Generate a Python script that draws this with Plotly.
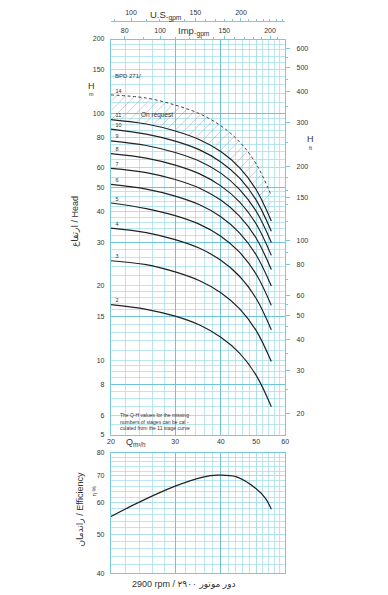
import numpy as np
import plotly.graph_objects as go

# ---------------- data ----------------
Q_STAGE = [20, 25, 30, 35, 40, 45, 50, 55]          # m3/h
H_2 = [16.8, 16.1, 15.1, 13.9, 12.4, 10.7, 8.7, 6.5]
H_3 = [25.3, 24.4, 22.8, 21.0, 18.8, 16.2, 13.2, 9.9]
H_4 = [34.3, 32.9, 30.8, 28.4, 25.4, 21.9, 17.8, 13.3]
H_5 = [43.3, 41.1, 38.5, 35.5, 31.8, 27.4, 22.3, 16.7]
H_6 = [51.5, 49.3, 46.2, 42.6, 38.1, 32.8, 26.7, 20.0]
H_7 = [59.8, 57.5, 53.9, 49.7, 44.5, 38.3, 31.2, 23.3]
H_8 = [68.6, 65.8, 61.6, 56.8, 50.8, 43.8, 35.6, 26.6]
H_9 = [77.3, 74.0, 69.3, 63.9, 57.2, 49.2, 40.1, 30.0]
H_10 = [86.2, 82.2, 77.0, 71.0, 63.5, 54.7, 44.5, 33.3]
H_11 = [94.2, 90.4, 84.7, 78.1, 69.9, 60.2, 49.0, 36.6]
H_14 = [118.5, 115.1, 107.8, 99.4, 88.9, 76.6, 62.3, 46.4]
STAGE_NAMES = ["2", "3", "4", "5", "6", "7", "8", "9", "10", "11"]

Q_EFF = [20, 24, 30, 36, 39, 44, 50, 53, 55]
EFF = [55.4, 60.3, 66.0, 69.6, 70.3, 69.7, 65.0, 61.5, 57.8]

X_TICKS = [20, 30, 40, 50, 60]
H_TICKS_M = [5, 6, 8, 10, 15, 20, 30, 40, 50, 60, 80, 100, 150, 200]
H_TICKS_FT = [20, 30, 40, 50, 60, 80, 100, 150, 200, 300, 400, 500, 600]
EFF_TICKS = [40, 50, 60, 70, 80]
US_GPM_TICKS = [100, 150, 200]
IMP_GPM_TICKS = [80, 100, 150, 200]
M3H_TO_USGPM = 4.4029
M3H_TO_IMPGPM = 3.6662
M_TO_FT = 3.28084

Q_RANGE = [20, 60]
H_RANGE = [5, 200]
EFF_RANGE = [40, 80]

# ---------------- styling ----------------
PAGE_MARGIN = 8            # default body margin of the html page
W, H = 388 - PAGE_MARGIN, 595 - PAGE_MARGIN
FONT = "Liberation Sans, Arial, DejaVu Sans, sans-serif"
TXT = "#333333"
GRID = "rgb(170,222,235)"
GRID_THICK = "rgb(110,195,218)"
FRAME = "rgb(120,200,222)"
CURVE = "#222222"
HATCH = "rgb(175,175,175)"


def px(x):
    return (x - PAGE_MARGIN) / W


def py(y):
    return 1 - (y - PAGE_MARGIN) / H


PLOT_L, PLOT_R, PLOT_T, PLOT_B = 109, 287, 35, 436
XD = [px(PLOT_L), px(PLOT_R)]
TOP = [py(PLOT_B), py(PLOT_T)]
BOT = [py(576), py(454)]
LX = [np.log10(Q_RANGE[0]), np.log10(Q_RANGE[1])]
LY = [np.log10(H_RANGE[0]), np.log10(H_RANGE[1])]

minor_x = list(range(22, 60, 2))
minor_h = (list(np.arange(5.5, 10, 0.5)) + list(range(11, 20)) + list(range(22, 50, 2))
           + list(range(55, 100, 5)) + list(range(110, 200, 10)))
minor_eff = list(range(42, 80, 2))
minor_ft = [25, 35, 45, 55, 70, 90, 120, 140, 160, 180, 250, 350, 450, 550]
minor_us = list(range(90, 270, 10))
minor_imp = list(range(80, 221, 10))

# ---- hatch lines ("/") inside the band between the 11- and 14-stage curves ----
KX = (PLOT_R - PLOT_L) / (LX[1] - LX[0])     # px per decade
KY = (PLOT_B - PLOT_T) / (LY[1] - LY[0])
lq = np.log10(Q_STAGE)
u_end = (lq[-1] - LX[0]) * KX
us = np.linspace(0, u_end, 600)
lq_s = LX[0] + us / KX
v_lo = (np.interp(lq_s, lq, np.log10(H_11)) - LY[0]) * KY
v_hi = (np.interp(lq_s, lq, np.log10(H_14)) - LY[0]) * KY
hx, hy = [], []
for c in np.arange((v_lo - us).min(), (v_hi - us).max(), 9.5):
    v = us + c
    inside = (v >= v_lo) & (v <= v_hi)
    if inside.sum() < 2:
        continue
    idx = np.where(inside)[0]
    for i in (idx[0], idx[-1]):
        hx.append(10 ** (LX[0] + us[i] / KX))
        hy.append(10 ** (LY[0] + v[i] / KY))
    hx.append(None)
    hy.append(None)

fig = go.Figure()

fig.add_trace(go.Scatter(x=hx, y=hy, mode="lines", line=dict(color=HATCH, width=0.6),
                         connectgaps=False, hoverinfo="skip", showlegend=False))

stage_series = [H_2, H_3, H_4, H_5, H_6, H_7, H_8, H_9, H_10, H_11]
for name, hs in zip(STAGE_NAMES, stage_series):
    fig.add_trace(go.Scatter(x=Q_STAGE, y=hs, mode="lines", line=dict(color=CURVE, width=1.2, shape="spline"),
                             hoverinfo="skip", showlegend=False))
fig.add_trace(go.Scatter(x=Q_STAGE, y=H_14, mode="lines",
                         line=dict(color="#444444", width=1, dash="3px,2.5px", shape="spline"),
                         hoverinfo="skip", showlegend=False))

# stage labels near the start of each curve
label_series = stage_series + [H_14]
label_names = STAGE_NAMES + ["14"]
fig.add_trace(go.Scatter(x=[Q_STAGE[0] * 1.03] * len(label_series),
                         y=[s[0] * 1.035 for s in label_series],
                         text=label_names, mode="text", textposition="middle right",
                         textfont=dict(size=5.5, color=TXT, family=FONT),
                         hoverinfo="skip", showlegend=False))

# efficiency
fig.add_trace(go.Scatter(x=Q_EFF, y=EFF, mode="lines", line=dict(color=CURVE, width=1.2, shape="spline"),
                         xaxis="x4", yaxis="y4", hoverinfo="skip", showlegend=False))

# empty traces to create the helper axes
for xa, ya in [("x2", "y"), ("x3", "y"), ("x5", "y"), ("x", "y3"), ("x", "y2"), ("x6", "y4")]:
    fig.add_trace(go.Scatter(x=[], y=[], xaxis=xa, yaxis=ya, hoverinfo="skip", showlegend=False))

tf = dict(size=7, color=TXT, family=FONT)

fig.update_layout(
    width=W, height=H, autosize=False,
    margin=dict(l=0, r=0, t=0, b=0),
    paper_bgcolor="white", plot_bgcolor="white",
    font=dict(family=FONT, color=TXT),
    showlegend=False, hovermode=False,
    xaxis=dict(type="log", range=LX, domain=XD, anchor="y", tickvals=X_TICKS,
               ticktext=[str(v) for v in X_TICKS], ticks="", tickfont=tf,
               showline=True, linecolor=FRAME, linewidth=1, mirror=False,
               showgrid=True, gridcolor=GRID, gridwidth=0.8, zeroline=False,
               minor=dict(tickvals=minor_x, showgrid=True, gridcolor=GRID, gridwidth=0.8, ticks="")),
    yaxis=dict(type="log", range=LY, domain=TOP, anchor="x",
               tickvals=H_TICKS_M, ticktext=[str(v) for v in H_TICKS_M], tickfont=tf,
               ticks="outside", ticklen=4, tickcolor="rgba(0,0,0,0)",
               showline=True, linecolor=FRAME, linewidth=1,
               showgrid=True, gridcolor=GRID, gridwidth=0.8, zeroline=False,
               minor=dict(tickvals=minor_h, showgrid=True, gridcolor=GRID, gridwidth=0.8, ticks="")),
    yaxis2=dict(type="log", overlaying="y", side="right", anchor="x",
                range=[np.log10(H_RANGE[0] * M_TO_FT), np.log10(H_RANGE[1] * M_TO_FT)],
                tickvals=H_TICKS_FT, ticktext=[str(v) for v in H_TICKS_FT], tickfont=tf,
                ticks="outside", ticklen=4, tickcolor=FRAME, ticklabelstandoff=5,
                showline=True, linecolor=FRAME, linewidth=1, showgrid=False, zeroline=False,
                minor=dict(tickvals=minor_ft, ticks="outside", ticklen=2, tickcolor=FRAME, showgrid=False)),
    yaxis3=dict(type="log", overlaying="y", anchor="x", range=LY,
                tickvals=[8, 15, 30, 50, 100], showticklabels=False, ticks="",
                showgrid=True, gridcolor=GRID_THICK, gridwidth=1.2, showline=False, zeroline=False),
    xaxis5=dict(type="log", overlaying="x", anchor="y", range=LX,
                tickvals=[30, 40], showticklabels=False, ticks="",
                showgrid=True, gridcolor=GRID_THICK, gridwidth=1.3, showline=False, zeroline=False),
    xaxis2=dict(type="log", overlaying="x", anchor="free", position=py(17), side="top",
                range=[np.log10(Q_RANGE[0] * M3H_TO_USGPM), np.log10(Q_RANGE[1] * M3H_TO_USGPM)],
                tickvals=US_GPM_TICKS, ticktext=[str(v) for v in US_GPM_TICKS], tickfont=tf,
                ticks="outside", ticklen=3, tickcolor=FRAME,
                showline=True, linecolor=FRAME, linewidth=1, showgrid=False, zeroline=False,
                minor=dict(tickvals=minor_us, ticks="outside", ticklen=2, tickcolor=FRAME, showgrid=False)),
    xaxis3=dict(type="log", overlaying="x", anchor="free", position=TOP[1], side="top",
                range=[np.log10(Q_RANGE[0] * M3H_TO_IMPGPM), np.log10(Q_RANGE[1] * M3H_TO_IMPGPM)],
                tickvals=IMP_GPM_TICKS, ticktext=[str(v) for v in IMP_GPM_TICKS], tickfont=tf,
                ticks="outside", ticklen=3, tickcolor=FRAME,
                showline=True, linecolor=FRAME, linewidth=1, showgrid=False, zeroline=False,
                minor=dict(tickvals=minor_imp, ticks="outside", ticklen=2, tickcolor=FRAME, showgrid=False)),
    xaxis4=dict(type="log", range=LX, domain=XD, anchor="y4", tickvals=X_TICKS, showticklabels=False,
                ticks="", showline=True, linecolor=FRAME, linewidth=1, mirror=True,
                showgrid=True, gridcolor=GRID, gridwidth=0.8, zeroline=False,
                minor=dict(tickvals=minor_x, showgrid=True, gridcolor=GRID, gridwidth=0.8, ticks="")),
    yaxis4=dict(type="log", range=[np.log10(EFF_RANGE[0]), np.log10(EFF_RANGE[1])], domain=BOT, anchor="x4",
                tickvals=EFF_TICKS, ticktext=[str(v) for v in EFF_TICKS], tickfont=tf,
                ticks="outside", ticklen=4, tickcolor="rgba(0,0,0,0)",
                showline=True, linecolor=FRAME, linewidth=1, mirror=True,
                showgrid=True, gridcolor=GRID, gridwidth=0.8, zeroline=False,
                minor=dict(tickvals=minor_eff, showgrid=True, gridcolor=GRID, gridwidth=0.8, ticks="")),
    xaxis6=dict(type="log", overlaying="x4", anchor="y4", range=LX,
                tickvals=[30, 40], showticklabels=False, ticks="",
                showgrid=True, gridcolor=GRID_THICK, gridwidth=1.3, showline=False, zeroline=False),
)


def ann(x, y, text, size, xanchor="center", yanchor="middle", angle=0, align="center"):
    fig.add_annotation(x=px(x), y=py(y), xref="paper", yref="paper", text=text, showarrow=False,
                       xanchor=xanchor, yanchor=yanchor, textangle=angle, align=align,
                       font=dict(size=size, color=TXT, family=FONT))


ann(165, 12, "U.S.<sub>gpm</sub>", 9.5)
ann(194, 28, "Imp.<sub>gpm</sub>", 9.5)
ann(89, 83, "H", 9)
ann(89, 91, "m", 5.5)
ann(313, 137, "H", 9)
ann(313, 146, "ft", 5.5)
ann(111, 73, "BPD 271/", 6, xanchor="left")
ann(156, 112, "On request", 6.5)
ann(116, 411, "The Q-H values for the missing<br>numbers of stages can be cal -<br>culated from the 11 stage curve",
    5, xanchor="left", yanchor="top", align="left")
ann(122, 444, "Q<sub>m³/h</sub>", 9, xanchor="left")
ann(73, 220, "ارتفاع / Head", 9, angle=-90)
ann(77, 511, "راندمان / Efficiency", 9, angle=-90)
ann(92, 493, "η %", 6, angle=-90)
ann(184, 587, "2900 rpm / دور موتور ۲۹۰۰", 9)

fig.write_html("out.html", config={"staticPlot": True, "displayModeBar": False})
